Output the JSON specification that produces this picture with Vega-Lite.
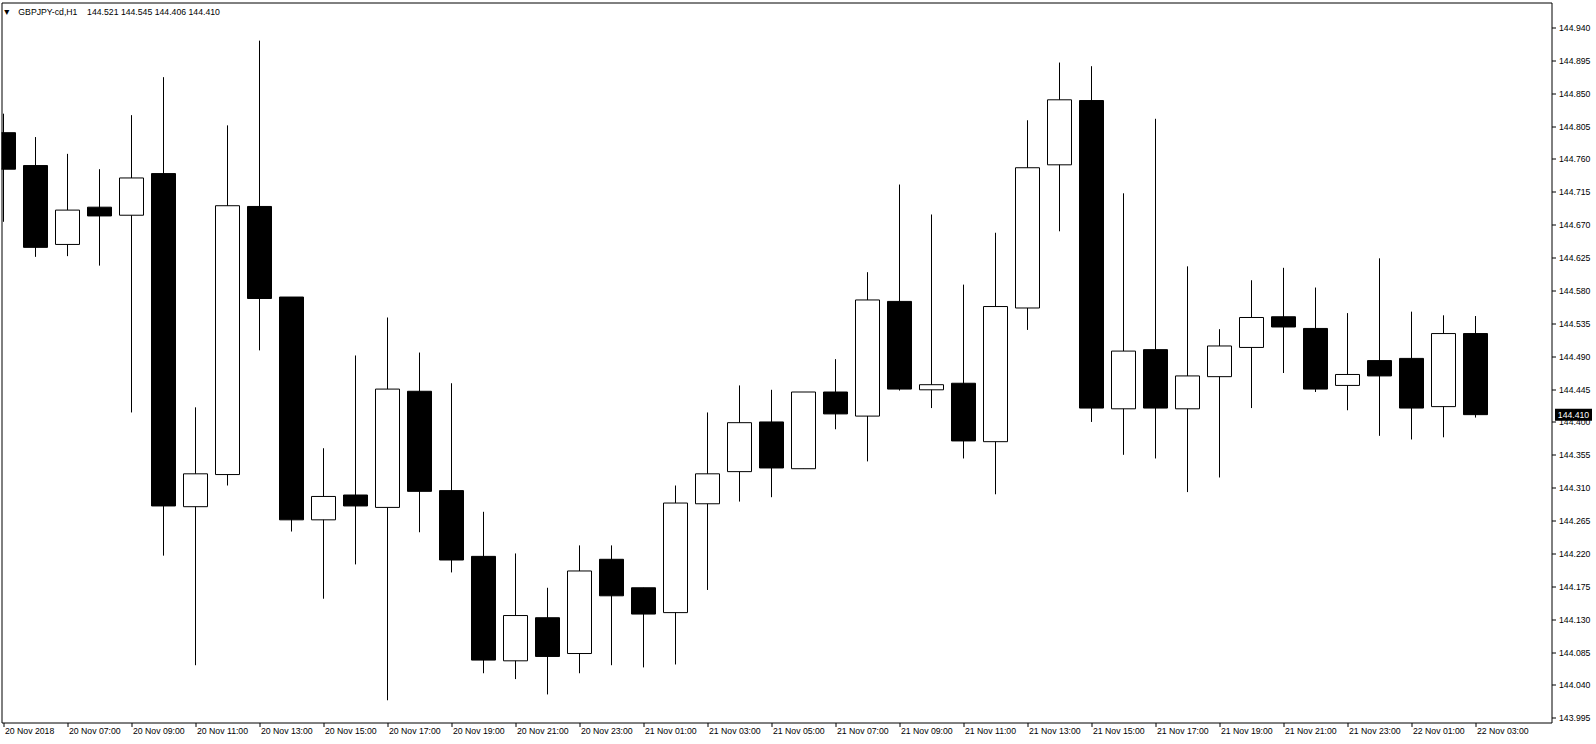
{
  "$schema": "https://vega.github.io/schema/vega-lite/v6.json",
  "width": 1550,
  "height": 720,
  "autosize": {"type": "none"},
  "padding": {"left": 1.5, "top": 2.5, "right": 44.5, "bottom": 21.5},
  "background": "white",
  "title": {
    "text": "▼\u00a0\u00a0\u00a0GBPJPY-cd,H1\u00a0\u00a0\u00a0\u00a0144.521\u00a0144.545\u00a0144.406\u00a0144.410",
    "anchor": "start", "frame": "group", "orient": "top", "offset": -14,
    "dx": 1, "font": "Liberation Sans", "fontSize": 8.7, "fontWeight": "normal", "color": "black"
  },
  "config": {"view": {"stroke": "black", "strokeWidth": 1}, "font": "Liberation Sans"},
  "datasets": {
    "candles": [
      {"t": "2018-11-20T05:00:00Z", "open": 144.796, "high": 144.822, "low": 144.674, "close": 144.746},
      {"t": "2018-11-20T06:00:00Z", "open": 144.751, "high": 144.790, "low": 144.626, "close": 144.639},
      {"t": "2018-11-20T07:00:00Z", "open": 144.643, "high": 144.767, "low": 144.627, "close": 144.690},
      {"t": "2018-11-20T08:00:00Z", "open": 144.694, "high": 144.746, "low": 144.614, "close": 144.682},
      {"t": "2018-11-20T09:00:00Z", "open": 144.683, "high": 144.820, "low": 144.413, "close": 144.734},
      {"t": "2018-11-20T10:00:00Z", "open": 144.740, "high": 144.872, "low": 144.217, "close": 144.285},
      {"t": "2018-11-20T11:00:00Z", "open": 144.284, "high": 144.420, "low": 144.067, "close": 144.329},
      {"t": "2018-11-20T12:00:00Z", "open": 144.328, "high": 144.806, "low": 144.313, "close": 144.696},
      {"t": "2018-11-20T13:00:00Z", "open": 144.695, "high": 144.922, "low": 144.498, "close": 144.569},
      {"t": "2018-11-20T14:00:00Z", "open": 144.571, "high": 144.571, "low": 144.250, "close": 144.266},
      {"t": "2018-11-20T15:00:00Z", "open": 144.266, "high": 144.364, "low": 144.158, "close": 144.298},
      {"t": "2018-11-20T16:00:00Z", "open": 144.300, "high": 144.491, "low": 144.205, "close": 144.285},
      {"t": "2018-11-20T17:00:00Z", "open": 144.283, "high": 144.543, "low": 144.019, "close": 144.445},
      {"t": "2018-11-20T18:00:00Z", "open": 144.442, "high": 144.495, "low": 144.249, "close": 144.305},
      {"t": "2018-11-20T19:00:00Z", "open": 144.306, "high": 144.453, "low": 144.194, "close": 144.211},
      {"t": "2018-11-20T20:00:00Z", "open": 144.216, "high": 144.277, "low": 144.056, "close": 144.074},
      {"t": "2018-11-20T21:00:00Z", "open": 144.073, "high": 144.220, "low": 144.048, "close": 144.135},
      {"t": "2018-11-20T22:00:00Z", "open": 144.132, "high": 144.173, "low": 144.027, "close": 144.079},
      {"t": "2018-11-20T23:00:00Z", "open": 144.083, "high": 144.231, "low": 144.056, "close": 144.196},
      {"t": "2018-11-21T00:00:00Z", "open": 144.212, "high": 144.231, "low": 144.067, "close": 144.162},
      {"t": "2018-11-21T01:00:00Z", "open": 144.173, "high": 144.173, "low": 144.064, "close": 144.137},
      {"t": "2018-11-21T02:00:00Z", "open": 144.139, "high": 144.313, "low": 144.068, "close": 144.289},
      {"t": "2018-11-21T03:00:00Z", "open": 144.288, "high": 144.413, "low": 144.170, "close": 144.329},
      {"t": "2018-11-21T04:00:00Z", "open": 144.332, "high": 144.450, "low": 144.291, "close": 144.399},
      {"t": "2018-11-21T05:00:00Z", "open": 144.400, "high": 144.444, "low": 144.297, "close": 144.337},
      {"t": "2018-11-21T06:00:00Z", "open": 144.336, "high": 144.441, "low": 144.336, "close": 144.441},
      {"t": "2018-11-21T07:00:00Z", "open": 144.441, "high": 144.486, "low": 144.390, "close": 144.411},
      {"t": "2018-11-21T08:00:00Z", "open": 144.408, "high": 144.605, "low": 144.346, "close": 144.567},
      {"t": "2018-11-21T09:00:00Z", "open": 144.565, "high": 144.725, "low": 144.443, "close": 144.445},
      {"t": "2018-11-21T10:00:00Z", "open": 144.444, "high": 144.684, "low": 144.419, "close": 144.451},
      {"t": "2018-11-21T11:00:00Z", "open": 144.453, "high": 144.588, "low": 144.350, "close": 144.374},
      {"t": "2018-11-21T12:00:00Z", "open": 144.373, "high": 144.659, "low": 144.301, "close": 144.558},
      {"t": "2018-11-21T13:00:00Z", "open": 144.556, "high": 144.813, "low": 144.526, "close": 144.748},
      {"t": "2018-11-21T14:00:00Z", "open": 144.752, "high": 144.892, "low": 144.661, "close": 144.841},
      {"t": "2018-11-21T15:00:00Z", "open": 144.840, "high": 144.887, "low": 144.400, "close": 144.419},
      {"t": "2018-11-21T16:00:00Z", "open": 144.418, "high": 144.713, "low": 144.355, "close": 144.497},
      {"t": "2018-11-21T17:00:00Z", "open": 144.499, "high": 144.815, "low": 144.350, "close": 144.419},
      {"t": "2018-11-21T18:00:00Z", "open": 144.418, "high": 144.613, "low": 144.304, "close": 144.463},
      {"t": "2018-11-21T19:00:00Z", "open": 144.462, "high": 144.527, "low": 144.324, "close": 144.504},
      {"t": "2018-11-21T20:00:00Z", "open": 144.502, "high": 144.594, "low": 144.419, "close": 144.543},
      {"t": "2018-11-21T21:00:00Z", "open": 144.544, "high": 144.611, "low": 144.467, "close": 144.530},
      {"t": "2018-11-21T22:00:00Z", "open": 144.528, "high": 144.584, "low": 144.441, "close": 144.445},
      {"t": "2018-11-21T23:00:00Z", "open": 144.450, "high": 144.549, "low": 144.416, "close": 144.465},
      {"t": "2018-11-22T00:00:00Z", "open": 144.484, "high": 144.624, "low": 144.381, "close": 144.463},
      {"t": "2018-11-22T01:00:00Z", "open": 144.487, "high": 144.551, "low": 144.376, "close": 144.419},
      {"t": "2018-11-22T02:00:00Z", "open": 144.421, "high": 144.546, "low": 144.379, "close": 144.521},
      {"t": "2018-11-22T03:00:00Z", "open": 144.521, "high": 144.545, "low": 144.406, "close": 144.410}
    ],
    "marker": [
      {"t": "2018-11-22T06:03:45Z", "price": 144.410}
    ]
  },
  "encoding": {
    "x": {
      "field": "t", "type": "temporal",
      "scale": {"type": "utc", "domain": [1542689775000, 1542864150000], "nice": false, "padding": 0},
      "axis": {
        "title": null,
        "values": [1542690000000, 1542697200000, 1542704400000, 1542711600000, 1542718800000, 1542726000000, 1542733200000, 1542740400000, 1542747600000, 1542754800000, 1542762000000, 1542769200000, 1542776400000, 1542783600000, 1542790800000, 1542798000000, 1542805200000, 1542812400000, 1542819600000, 1542826800000, 1542834000000, 1542841200000, 1542848400000, 1542855600000],
        "labelExpr": "(utcFormat(datum.value, '%d %H') == '20 05') ? '20 Nov 2018' : utcFormat(datum.value, '%d %b %H:%M')",
        "domain": false, "grid": false, "tickSize": 4, "tickColor": "black",
        "labelAlign": "left", "labelBaseline": "top", "labelPadding": 0, "labelOffset": 1,
        "labelFont": "Liberation Sans", "labelFontSize": 8.7, "labelColor": "black",
        "labelOverlap": false, "labelFlush": false
      }
    },
    "y": {
      "field": "low", "type": "quantitative",
      "scale": {"domain": [143.98857, 144.9742], "nice": false, "zero": false, "padding": 0},
      "axis": {
        "title": null, "orient": "right",
        "values": [143.995, 144.040, 144.085, 144.130, 144.175, 144.220, 144.265, 144.310, 144.355, 144.400, 144.445, 144.490, 144.535, 144.580, 144.625, 144.670, 144.715, 144.760, 144.805, 144.850, 144.895, 144.940],
        "format": ".3f",
        "domain": false, "grid": false, "tickSize": 4, "tickColor": "black",
        "labelPadding": 3, "labelAlign": "left", "labelBaseline": "middle",
        "labelFont": "Liberation Sans", "labelFontSize": 8.7, "labelColor": "black",
        "labelOverlap": false, "labelFlush": false
      }
    }
  },
  "layer": [
    {
      "data": {"name": "candles"},
      "mark": {"type": "rule", "color": "black", "strokeWidth": 1, "clip": true},
      "encoding": {
        "y2": {"field": "high"}
      }
    },
    {
      "data": {"name": "candles"},
      "mark": {"type": "bar", "orient": "vertical", "size": 24, "stroke": "black", "strokeWidth": 1, "clip": true},
      "encoding": {
        "y": {
          "field": "open", "type": "quantitative",
          "scale": {"domain": [143.98857, 144.9742], "nice": false, "zero": false, "padding": 0},
          "axis": {
            "title": null, "orient": "right",
            "values": [143.995, 144.040, 144.085, 144.130, 144.175, 144.220, 144.265, 144.310, 144.355, 144.400, 144.445, 144.490, 144.535, 144.580, 144.625, 144.670, 144.715, 144.760, 144.805, 144.850, 144.895, 144.940],
            "format": ".3f",
            "domain": false, "grid": false, "tickSize": 4, "tickColor": "black",
            "labelPadding": 3, "labelAlign": "left", "labelBaseline": "middle",
            "labelFont": "Liberation Sans", "labelFontSize": 8.7, "labelColor": "black",
            "labelOverlap": false, "labelFlush": false
          }
        },
        "y2": {"field": "close"},
        "fill": {"condition": {"test": "datum.close > datum.open", "value": "white"}, "value": "black"}
      }
    },
    {
      "data": {"name": "marker"},
      "mark": {"type": "tick", "orient": "horizontal", "size": 37, "thickness": 12, "color": "black", "opacity": 1, "clip": false},
      "encoding": {
        "y": {
          "field": "price", "type": "quantitative",
          "scale": {"domain": [143.98857, 144.9742], "nice": false, "zero": false, "padding": 0},
          "axis": {
            "title": null, "orient": "right",
            "values": [143.995, 144.040, 144.085, 144.130, 144.175, 144.220, 144.265, 144.310, 144.355, 144.400, 144.445, 144.490, 144.535, 144.580, 144.625, 144.670, 144.715, 144.760, 144.805, 144.850, 144.895, 144.940],
            "format": ".3f",
            "domain": false, "grid": false, "tickSize": 4, "tickColor": "black",
            "labelPadding": 3, "labelAlign": "left", "labelBaseline": "middle",
            "labelFont": "Liberation Sans", "labelFontSize": 8.7, "labelColor": "black",
            "labelOverlap": false, "labelFlush": false
          }
        }
      }
    },
    {
      "data": {"name": "marker"},
      "mark": {"type": "text", "color": "white", "font": "Liberation Sans", "fontSize": 8.7, "align": "center", "baseline": "middle", "clip": false},
      "encoding": {
        "y": {
          "field": "price", "type": "quantitative",
          "scale": {"domain": [143.98857, 144.9742], "nice": false, "zero": false, "padding": 0},
          "axis": {
            "title": null, "orient": "right",
            "values": [143.995, 144.040, 144.085, 144.130, 144.175, 144.220, 144.265, 144.310, 144.355, 144.400, 144.445, 144.490, 144.535, 144.580, 144.625, 144.670, 144.715, 144.760, 144.805, 144.850, 144.895, 144.940],
            "format": ".3f",
            "domain": false, "grid": false, "tickSize": 4, "tickColor": "black",
            "labelPadding": 3, "labelAlign": "left", "labelBaseline": "middle",
            "labelFont": "Liberation Sans", "labelFontSize": 8.7, "labelColor": "black",
            "labelOverlap": false, "labelFlush": false
          }
        },
        "text": {"field": "price", "type": "quantitative", "format": ".3f"}
      }
    }
  ]
}
